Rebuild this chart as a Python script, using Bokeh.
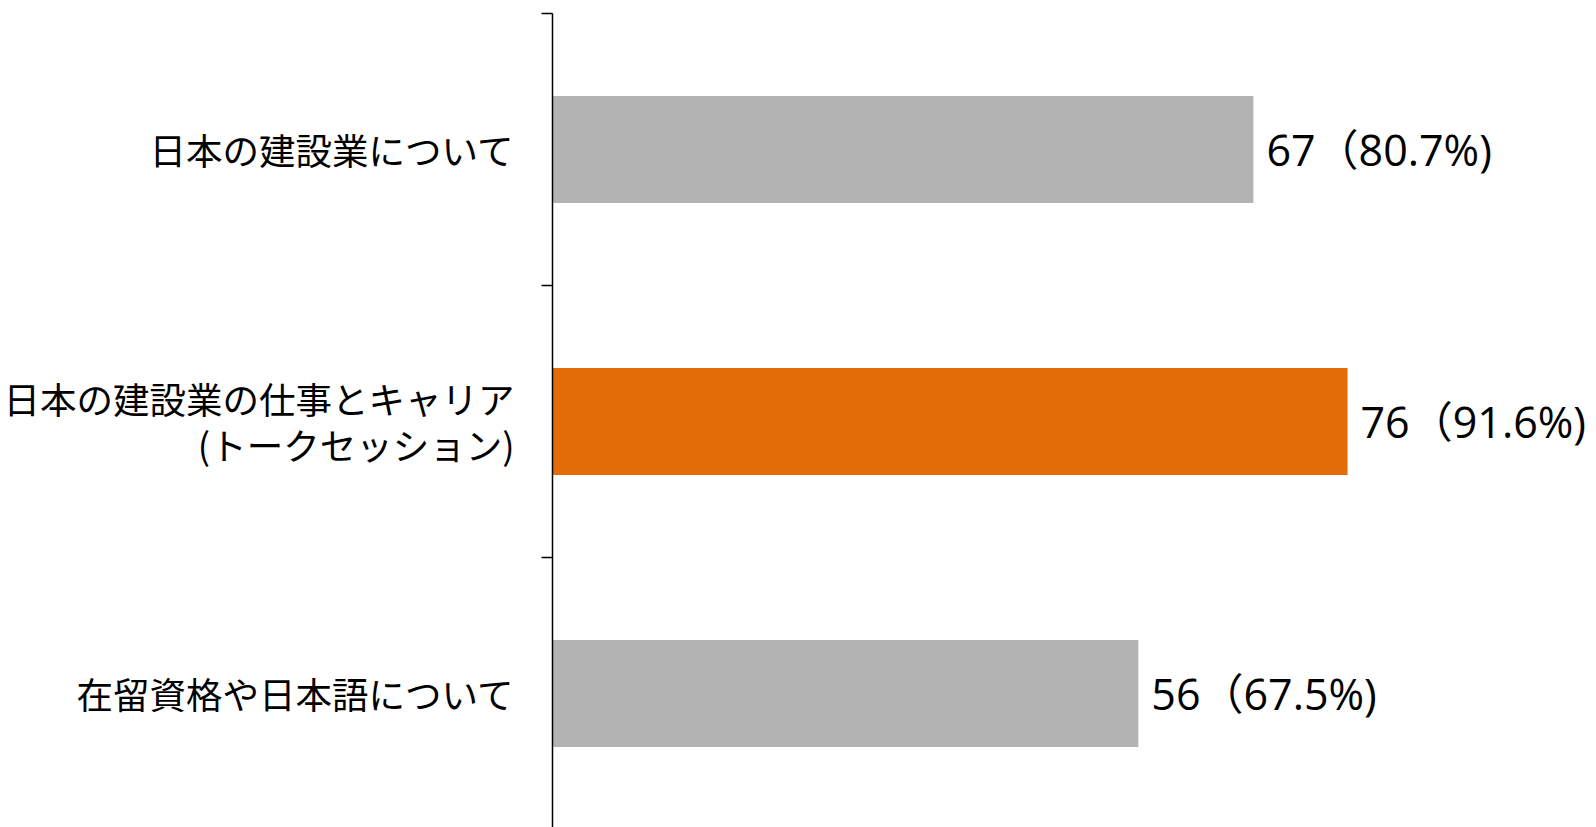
from bokeh.plotting import figure
from bokeh.models import ColumnDataSource, Range1d, FixedTicker
from bokeh.core.properties import value
from bokeh.embed import file_html
from bokeh.resources import INLINE

categories = ["日本の建設業について", "日本の建設業の仕事とキャリア\n(トークセッション)", "在留資格や日本語について"]
counts = [67, 76, 56]
percents = [80.7, 91.6, 67.5]
colors = ["#B3B3B3", "#E36C09", "#B3B3B3"]

ypos = [i + 0.5 for i in range(len(categories))]
labels = [f"{c}（{p:.1f}%)" for c, p in zip(counts, percents)]

src = ColumnDataSource(dict(y=ypos, cnt=counts, col=colors, lab=labels))

W, H = 1596, 827
p = figure(width=W, height=H, output_backend="svg", toolbar_location=None,
           x_range=Range1d(0, 99.8), y_range=Range1d((H - 13) / 272, 0),
           x_axis_location=None, min_border_left=552, min_border_top=13,
           min_border_bottom=0, min_border_right=0)
p.outline_line_color = None
p.grid.visible = False
p.background_fill_color = "white"
p.border_fill_color = "white"

p.hbar(y="y", right="cnt", left=0, height=0.393, color="col", line_color=None, source=src)
p.text(x="cnt", y="y", text="lab", x_offset=13, text_baseline="middle", text_align="left",
       text_font=value("Open Sans, Noto Sans CJK JP"), text_font_size="43px",
       text_color="black", source=src)

ax = p.yaxis[0]
ax.ticker = FixedTicker(ticks=ypos, minor_ticks=list(range(len(categories) + 1)))
ax.major_label_overrides = {y: c for y, c in zip(ypos, categories)}
ax.major_tick_line_color = None
ax.major_tick_out = 0
ax.major_tick_in = 0
ax.minor_tick_out = 11
ax.minor_tick_in = 0
ax.minor_tick_line_color = "black"
ax.minor_tick_line_width = 1.5
ax.axis_line_color = "black"
ax.axis_line_width = 1.5
ax.major_label_standoff = 27
ax.major_label_text_font = "Noto Sans CJK JP"
ax.major_label_text_font_size = "36.5px"
ax.major_label_text_line_height = 0.87
ax.major_label_text_color = "black"

open("out.html", "w").write(file_html(p, INLINE))
